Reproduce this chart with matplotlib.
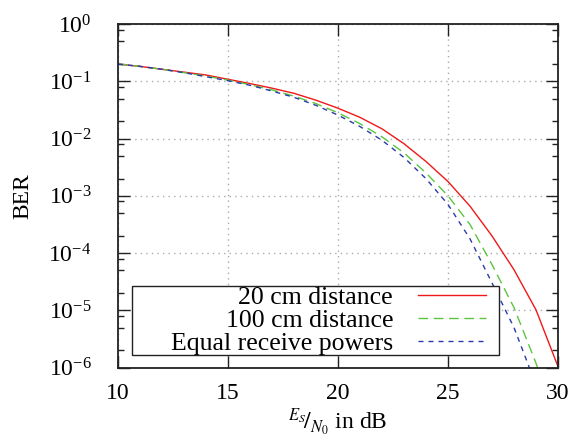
import numpy as np
import matplotlib
matplotlib.use('Agg')
import matplotlib.pyplot as plt
from matplotlib.patches import Rectangle
from matplotlib.ticker import LogLocator, FixedLocator, NullLocator

plt.rcParams['font.family'] = ['Liberation Serif', 'DejaVu Serif']
plt.rcParams['mathtext.fontset'] = 'stix'

# Es/N0 in dB
snr_db = [10, 11, 12, 13, 14, 15, 16, 17, 18, 19, 20,
          21, 22, 23, 24, 25, 26, 27, 28, 29, 30]

# log10(BER)
log_ber_20cm = [-0.70, -0.74, -0.79, -0.84, -0.89, -0.965, -1.04, -1.12, -1.21, -1.33, -1.47,
                -1.63, -1.83, -2.09, -2.40, -2.75, -3.18, -3.70, -4.29, -4.99, -5.98]
log_ber_100cm = [-0.70, -0.74, -0.79, -0.85, -0.91, -0.98, -1.06, -1.15, -1.26, -1.39, -1.55,
                 -1.74, -1.97, -2.25, -2.60, -3.00, -3.50, -4.20, -4.95, -5.92, -7.00]
log_ber_equal = [-0.70, -0.74, -0.79, -0.85, -0.92, -0.99, -1.07, -1.17, -1.28, -1.42, -1.59,
                 -1.79, -2.03, -2.33, -2.70, -3.15, -3.75, -4.52, -5.30, -6.30, -7.40]

labels = ['20 cm distance', '100 cm distance', 'Equal receive powers']

fs = 17

fig = plt.figure(figsize=(5.73, 4.38), dpi=100)
ax = fig.add_axes([118 / 573, 1 - 367.7 / 438, 440 / 573, 343.7 / 438])

ax.semilogy(snr_db, 10 ** np.array(log_ber_20cm), color='#f01818', lw=1.0,
            label=labels[0])
ax.semilogy(snr_db, 10 ** np.array(log_ber_100cm), color='#5cc440', lw=1.0,
            dashes=(7, 4), label=labels[1])
ax.semilogy(snr_db, 10 ** np.array(log_ber_equal), color='#2a3aaa', lw=1.0,
            dashes=(3.6, 3.6), label=labels[2])

ax.set_xlim(10, 30)
ax.set_ylim(1e-6, 1)

ax.xaxis.set_major_locator(FixedLocator([10, 15, 20, 25, 30]))
ax.xaxis.set_minor_locator(NullLocator())
ax.yaxis.set_major_locator(LogLocator(base=10, numticks=10))
ax.yaxis.set_minor_locator(LogLocator(base=10, subs=(2, 5, 8), numticks=10))

ax.tick_params(which='both', direction='in', top=True, right=True,
               colors='#222222', labelcolor='black', width=1.0)
ax.tick_params(which='major', length=8.6)
ax.tick_params(which='minor', length=4.5)
ax.tick_params(axis='y', which='major', labelsize=fs, pad=19)
ax.tick_params(axis='x', which='major', labelsize=fs, pad=11)

ax.grid(True, which='major', color='#aaaaaa', linestyle=(0, (1, 3)), lw=1.0)

for s in ax.spines.values():
    s.set_color('#222222')
    s.set_linewidth(1.3)

ax.set_ylabel('BER', fontsize=fs, labelpad=11)
ax.set_xlabel(r'$^{E_S}\!/_{N_0}$ in dB', fontsize=fs, labelpad=2)

# key box, gnuplot style: opaque, text right-aligned, wide left margin
box = Rectangle((0.032, 0.037), 0.834, 0.2, transform=ax.transAxes,
                facecolor='white', edgecolor='#222222', lw=1.0, zorder=4)
ax.add_patch(box)

leg = ax.legend(loc='center right', bbox_to_anchor=(0.8365, 0.137),
                markerfirst=False, fontsize=18.5, frameon=False,
                handlelength=2.65, handletextpad=0.97, labelspacing=0.0,
                borderpad=0, borderaxespad=0)
leg.set_zorder(5)

fig.savefig('out.png', dpi=100)
